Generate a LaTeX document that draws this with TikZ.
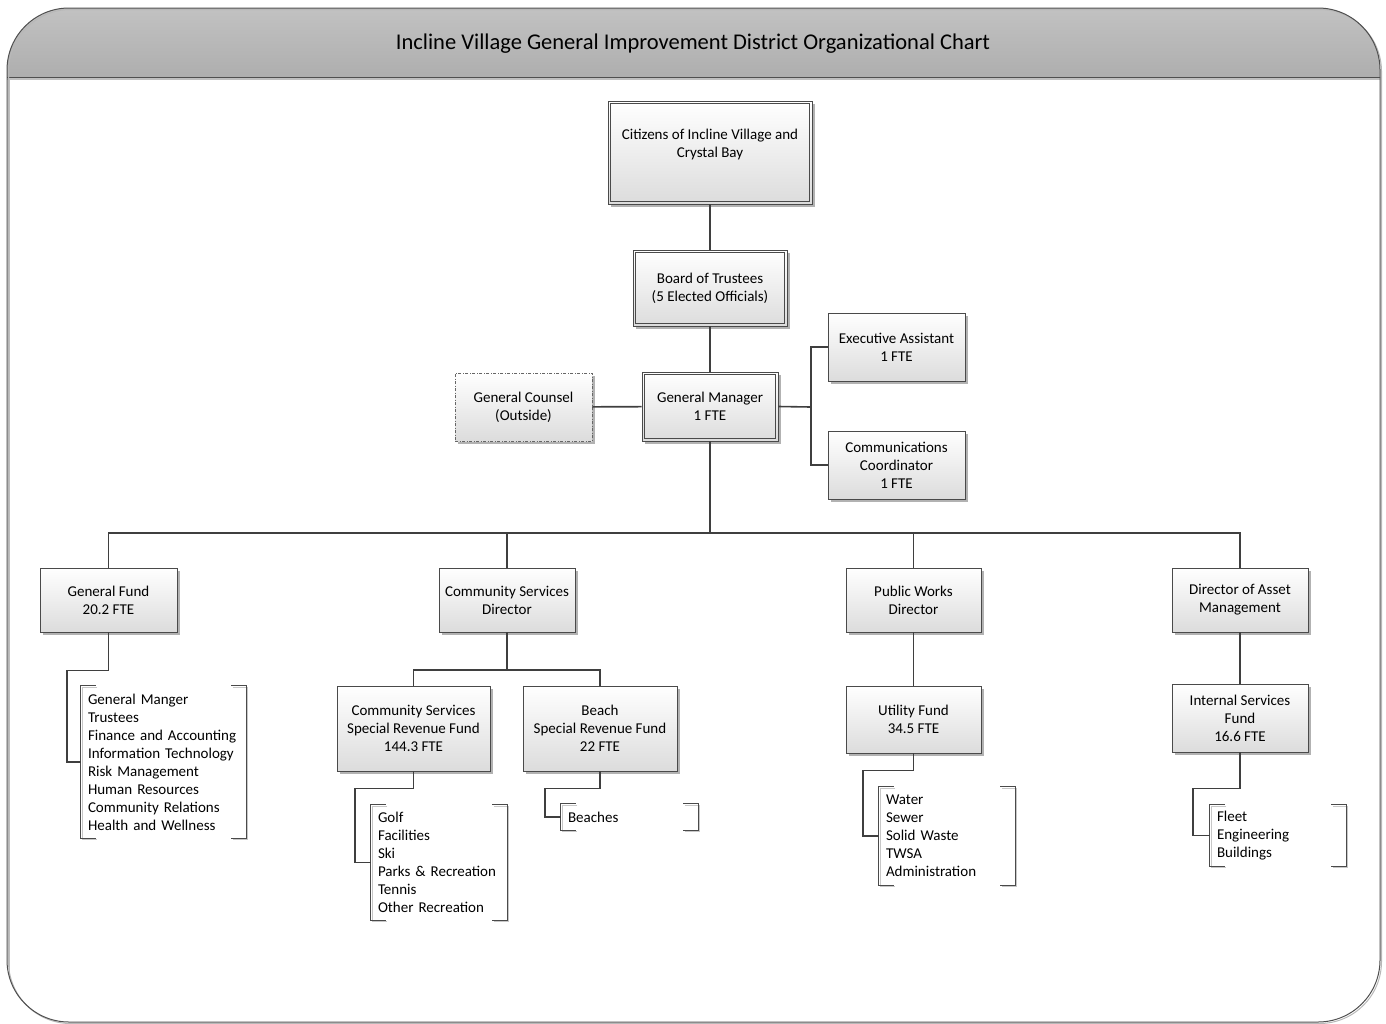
\documentclass[tikz,border=0pt]{standalone}
\usepackage{fontspec}
\setmainfont{Carlito}
\usetikzlibrary{shadows,calc}
\definecolor{boxline}{HTML}{4A4A4A}
\definecolor{connline}{HTML}{3F3F3F}
\definecolor{boxfill}{HTML}{DCDCDC}
\definecolor{hdrtop}{HTML}{C4C4C4}
\definecolor{hdrbot}{HTML}{AEAEAE}
\definecolor{framecol}{HTML}{4F4F4F}
\newcommand\lbr[1]{%
\foreach \s/\st in {1.5pt/brks,0pt/brk}{%
 \draw[\st] ([shift={(\s+15pt,-\s)}]#1.north west) -- ([shift={(\s,-\s)}]#1.north west) -- ([shift={(\s,-\s)}]#1.south west) -- ([shift={(\s+15pt,-\s)}]#1.south west);
 \draw[\st] ([shift={(\s-15pt,-\s)}]#1.north east) -- ([shift={(\s,-\s)}]#1.north east) -- ([shift={(\s,-\s)}]#1.south east) -- ([shift={(\s-15pt,-\s)}]#1.south east);
}}
\begin{document}
\begin{tikzpicture}[x=1pt,y=-1pt,
 box/.style={draw=boxline,line width=0.8pt,top color=white,bottom color=boxfill,align=center,inner sep=0pt,font=\fontsize{15}{18}\selectfont,drop shadow={shadow xshift=3pt,shadow yshift=-3pt,fill=black,opacity=0.3}},
 inner/.style={draw=boxline,line width=0.8pt},
 conn/.style={draw=connline,line width=1.6pt},
 lst/.style={inner sep=0pt,inner xsep=7pt,align=left,font=\fontsize{15}{18}\selectfont},
 brk/.style={draw=boxline,line width=0.8pt},
 brks/.style={draw=black!22,line width=1pt},
 titlef/.style={font=\fontsize{22.5}{26}\selectfont}
]
\useasboundingbox (0,0) rectangle (1386,1023);
% frame
\begin{scope}
\clip[rounded corners=62pt] (7,8) rectangle (1380,1022);
\shade[top color=hdrtop,bottom color=hdrbot] (0,0) rectangle (1386,77);
\fill[black!25] (0,77) rectangle (1386,80);
\draw[framecol,line width=0.9pt] (0,77) -- (1386,77);
\draw[black!25,line width=1pt] (9.5,80) -- (9.5,1000);
\end{scope}
\draw[black!28,line width=1pt,rounded corners=62pt] (8.5,9.5) rectangle (1381.5,1023.5);
\draw[framecol,line width=1pt,rounded corners=62pt] (7,8) rectangle (1380,1022);
\node[titlef] (title) at (693,44) {Incline Village General Improvement District Organizational Chart};

% top chain
\node[box,minimum width=204pt,minimum height=103pt] (cit) at (710,152.5) {Citizens of Incline Village and\\Crystal Bay\\[-4pt]\strut};
\node[box,minimum width=154pt,minimum height=76pt] (bot) at (710,288) {Board of Trustees\\(5 Elected Officials)};
\node[box,minimum width=136pt,minimum height=69pt] (gm) at (710,406.5) {General Manager\\1 FTE};
\foreach \n in {cit,bot,gm}
  \draw[inner] ([shift={(3pt,-3pt)}]\n.north west) rectangle ([shift={(-3pt,3pt)}]\n.south east);
\node[box,draw=black!60,dash pattern=on 3pt off 1.5pt on 1pt off 1.5pt,minimum width=137pt,minimum height=68pt] (gc) at (523.5,407) {General Counsel\\(Outside)};
\node[box,minimum width=137pt,minimum height=68pt] (ea) at (896.5,347) {Executive Assistant\\1 FTE};
\node[box,minimum width=137pt,minimum height=68pt] (cc) at (896.5,465) {Communications\\Coordinator\\1 FTE};

% second level
\node[box,minimum width=137pt,minimum height=64pt] (gf) at (108.5,600) {General Fund\\20.2 FTE};
\node[box,minimum width=136pt,minimum height=64pt] (csd) at (507,600) {Community Services\\Director};
\node[box,minimum width=135pt,minimum height=64pt] (pwd) at (913.5,600) {Public Works\\Director};
\node[box,minimum width=136pt,minimum height=64pt] (dam) at (1240,600) {Director of Asset\\Management};

% funds
\node[box,minimum width=153pt,minimum height=85pt] (cssrf) at (413.5,728.5) {Community Services\\Special Revenue Fund\\144.3 FTE};
\node[box,minimum width=154pt,minimum height=85pt] (bsrf) at (600,728.5) {Beach\\Special Revenue Fund\\22 FTE};
\node[box,minimum width=135pt,minimum height=67pt] (uf) at (913.5,719.5) {Utility Fund\\34.5 FTE};
\node[box,minimum width=136pt,minimum height=68pt] (isf) at (1240,718) {Internal Services\\Fund\\16.6 FTE};

% lists
\node[lst,minimum width=165pt,minimum height=152pt,text width=151pt] (l1) at (163.5,762) {General Manger\\Trustees\\Finance and Accounting\\Information Technology\\Risk Management\\Human Resources\\Community Relations\\Health and Wellness};
\node[lst,minimum width=136pt,minimum height=115pt,text width=122pt] (l2) at (439,862.5) {Golf\\Facilities\\Ski\\Parks \& Recreation\\Tennis\\Other Recreation};
\node[lst,minimum width=137pt,minimum height=26pt,text width=123pt] (l3) at (629.5,817) {Beaches};
\node[lst,minimum width=136pt,minimum height=98pt,text width=122pt] (l4) at (947,836) {Water\\Sewer\\Solid Waste\\TWSA\\Administration};
\node[lst,minimum width=136pt,minimum height=61pt,text width=122pt] (l5) at (1278,835.5) {Fleet\\Engineering\\Buildings};
\lbr{l1}\lbr{l2}\lbr{l3}\lbr{l4}\lbr{l5}

% connectors
\coordinate (gmr) at (811,407);
\coordinate (bus) at (710,533);
\coordinate (csb) at (507,670);
\draw[conn] (cit.south) -- (bot.north);
\draw[conn] (bot) -- (gm);
\draw[conn] (gc) -- (gm);
\draw[conn] (gm.east) -- (gmr);
\draw[conn] (ea.west) -| (gmr) |- (cc.west);
\draw[conn] (gm.south) -- (bus);
\draw[conn] (gf.north) |- (bus) -| (dam.north);
\draw[conn] (csd.north) |- (bus);
\draw[conn] (pwd.north) |- (bus);
\draw[conn] (csd.south) -- (csb);
\draw[conn] (cssrf.north) |- (csb) -| (bsrf.north);
\draw[conn] (pwd) -- (uf);
\draw[conn] (dam) -- (isf);
\draw[conn] (gf.south) -- ++(0,38) -| ([xshift=-14pt]l1.west) -- (l1.west);
\draw[conn] (cssrf.south) -- ++(0,17) -| ([xshift=-16pt]l2.west) -- (l2.west);
\draw[conn] (bsrf.south) -- ++(0,17) -| ([xshift=-16pt]l3.west) -- (l3.west);
\draw[conn] (uf.south) -- ++(0,17) -| ([xshift=-16pt]l4.west) -- (l4.west);
\draw[conn] (isf.south) -- ++(0,36) -| ([xshift=-17pt]l5.west) -- (l5.west);
\end{tikzpicture}
\end{document}
